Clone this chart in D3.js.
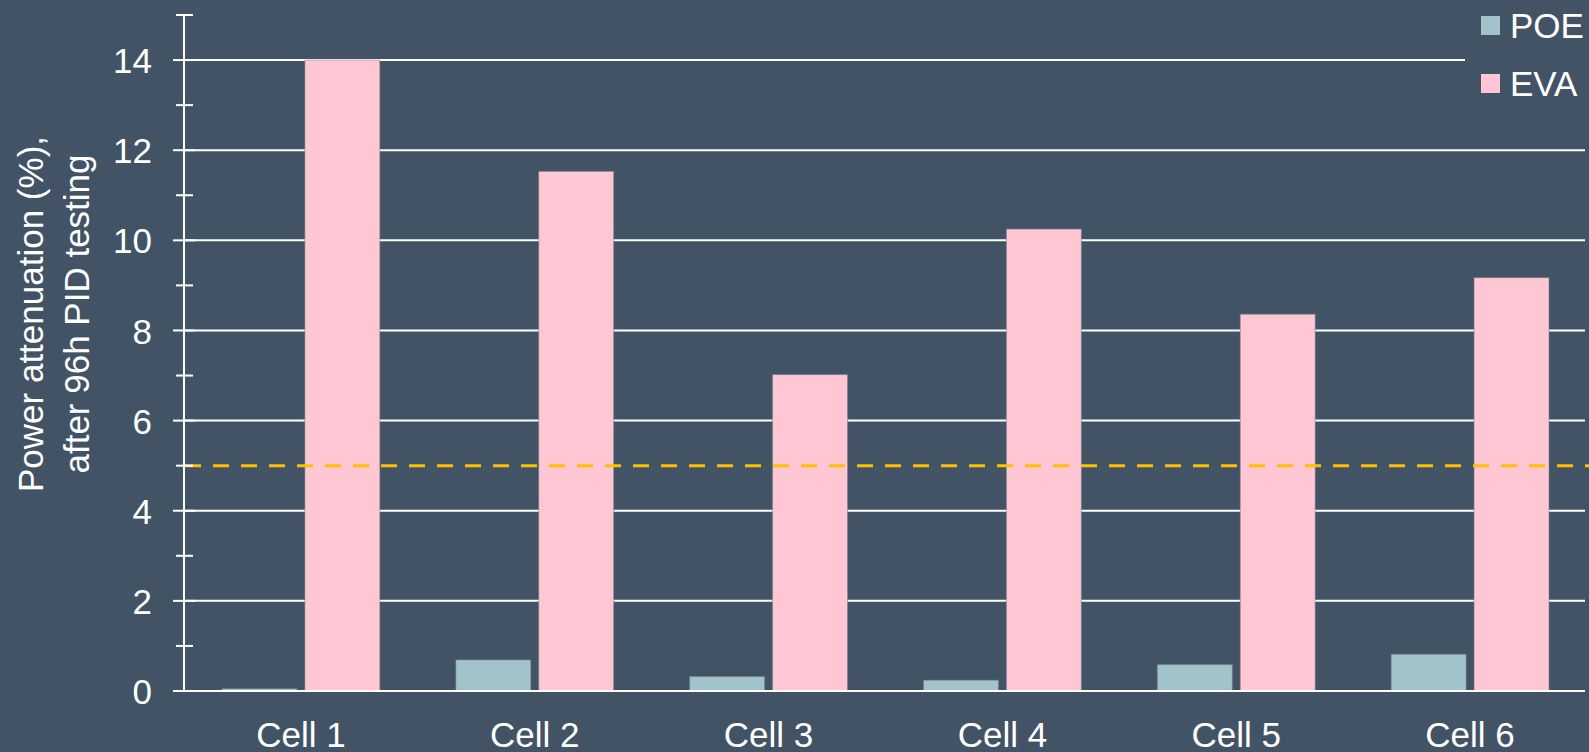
<!DOCTYPE html>
<html>
<head>
<meta charset="utf-8">
<script src="https://cdn.jsdelivr.net/npm/d3@7"></script>
<style>
  html, body { margin: 0; padding: 0; background: #435366; }
  svg { display: block; }
  text { font-family: "Liberation Sans", Arial, sans-serif; fill: #ffffff; }
</style>
</head>
<body>
<svg id="chart" width="1589" height="752"></svg>
<script>
const cells = ["Cell 1", "Cell 2", "Cell 3", "Cell 4", "Cell 5", "Cell 6"];
const seriesNames = ["POE", "EVA"];
const poeValues = [0.05, 0.69, 0.32, 0.24, 0.585, 0.815];
const evaValues = [14.0, 11.53, 7.02, 10.25, 8.36, 9.17];
const majorTicks = [0, 2, 4, 6, 8, 10, 12, 14];
const minorTicks = [1, 3, 5, 7, 9, 11, 13, 15];
const thresholdValue = 5;
const yTitleLines = ["Power attenuation (%),", "after 96h PID testing"];

(function () {
const colors = { POE: "#a1c4ca", EVA: "#ffc7d4" };
const W = 1589, H = 752;
const mLeft = 184, mRight = 1587, mTop = 15, mBottom = 691;

const svg = d3.select("#chart");
svg.append("rect").attr("width", W).attr("height", H).attr("fill", "#435366");

const y = d3.scaleLinear().domain([0, 15]).range([mBottom, mTop]);
const x0 = d3.scaleBand().domain(cells).range([mLeft, mRight])
  .paddingInner(0.325).paddingOuter(0.1625);
const x1 = d3.scaleBand().domain(seriesNames).range([0, x0.bandwidth()])
  .paddingInner(0.096).paddingOuter(0);

// gridlines
svg.append("g").selectAll("line").data(majorTicks).join("line")
  .attr("x1", mLeft).attr("x2", 1585)
  .attr("y1", d => y(d)).attr("y2", d => y(d))
  .attr("stroke", "#ffffff").attr("stroke-width", 2);

// bars
const data = cells.map((c, i) => ({ cell: c, POE: poeValues[i], EVA: evaValues[i] }));
const groups = svg.append("g").selectAll("g").data(data).join("g")
  .attr("transform", d => `translate(${x0(d.cell)},0)`);
groups.selectAll("rect").data(d => seriesNames.map(s => ({ s, v: d[s] }))).join("rect")
  .attr("x", d => x1(d.s))
  .attr("width", x1.bandwidth())
  .attr("y", d => y(d.v))
  .attr("height", d => y(0) - y(d.v))
  .attr("fill", d => colors[d.s])
  .attr("stroke", "rgba(120,125,140,0.55)")
  .attr("stroke-width", 1);

// zero line
svg.append("line").attr("x1", mLeft).attr("x2", 1585)
  .attr("y1", y(0)).attr("y2", y(0))
  .attr("stroke", "#ffffff").attr("stroke-width", 2);

// threshold dashed line
svg.append("line").attr("x1", mLeft + 1).attr("x2", W)
  .attr("y1", y(thresholdValue)).attr("y2", y(thresholdValue))
  .attr("stroke", "#ffc000").attr("stroke-width", 3)
  .attr("stroke-dasharray", "16,12");

// y axis labels through d3 axis
const yAxis = d3.axisLeft(y).tickValues(majorTicks).tickSize(0).tickPadding(0)
  .tickFormat(d3.format("d"));
const gy = svg.append("g").attr("transform", `translate(152,0)`).call(yAxis);
gy.select(".domain").remove();
gy.selectAll("text")
  .attr("font-size", 35)
  .attr("font-family", "Liberation Sans, Arial, sans-serif")
  .attr("fill", "#ffffff")
  .attr("dy", "0.36em");

// axis line and ticks
svg.append("line").attr("x1", mLeft).attr("x2", mLeft)
  .attr("y1", y(15)).attr("y2", y(0))
  .attr("stroke", "#ffffff").attr("stroke-width", 2);
svg.append("g").selectAll("line").data(majorTicks).join("line")
  .attr("x1", 173).attr("x2", 195)
  .attr("y1", d => y(d)).attr("y2", d => y(d))
  .attr("stroke", "#ffffff").attr("stroke-width", 2);
svg.append("g").selectAll("line").data(minorTicks).join("line")
  .attr("x1", 176).attr("x2", 193)
  .attr("y1", d => y(d)).attr("y2", d => y(d))
  .attr("stroke", "#ffffff").attr("stroke-width", 2);

// x labels
const xAxis = d3.axisBottom(x0).tickSize(0).tickPadding(0);
const gx = svg.append("g").attr("transform", `translate(0,${mBottom})`).call(xAxis);
gx.select(".domain").remove();
gx.selectAll("text")
  .attr("font-size", 35)
  .attr("font-family", "Liberation Sans, Arial, sans-serif")
  .attr("fill", "#ffffff")
  .attr("dy", null)
  .attr("y", 56);

// y title
const yt = svg.append("text")
  .attr("transform", "translate(0,314) rotate(-90)")
  .attr("text-anchor", "middle")
  .attr("font-size", 35);
yTitleLines.forEach((t, i) => {
  yt.append("tspan").attr("x", 0).attr("y", 43 + i * 46).text(t);
});

// legend
const lg = svg.append("g");
lg.append("rect").attr("x", 1465).attr("y", 0).attr("width", 124).attr("height", 118)
  .attr("fill", "#435366");
seriesNames.forEach((s, i) => {
  lg.append("rect").attr("x", 1481).attr("y", 16 + i * 58)
    .attr("width", 19).attr("height", 19).attr("fill", colors[s]);
  lg.append("text").attr("x", 1510).attr("y", 38 + i * 58)
    .attr("font-size", 35).text(s);
});
})();
</script>
</body>
</html>
